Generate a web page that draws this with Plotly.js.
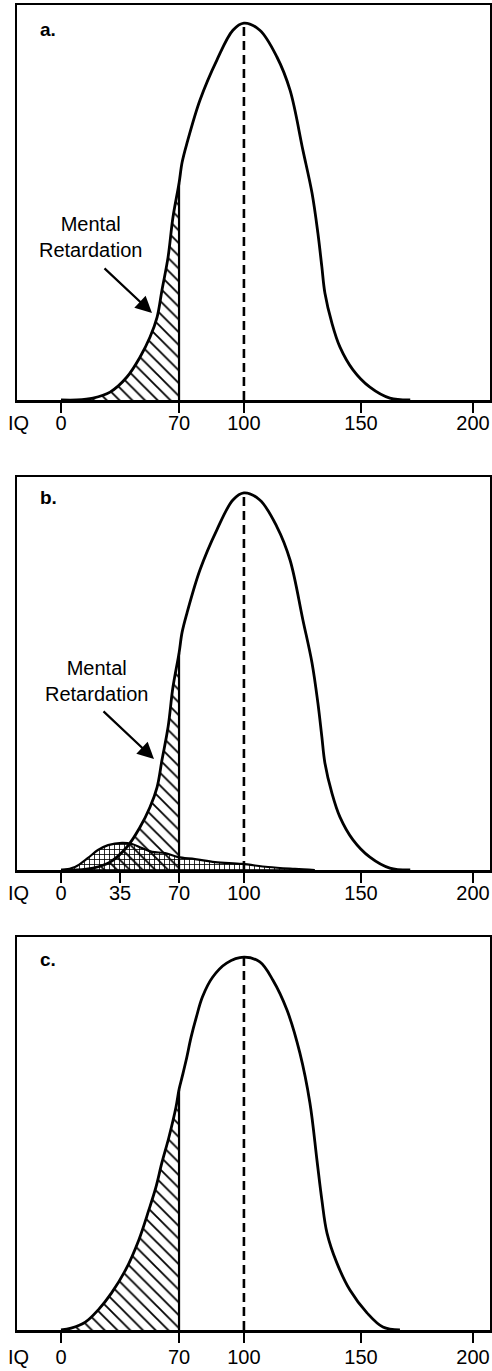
<!DOCTYPE html>
<html><head><meta charset="utf-8">
<script src="https://cdn.plot.ly/plotly-3.0.1.min.js"></script>
<style>html,body{margin:0;padding:0;background:#fff}#chart{width:492px;height:1371px}</style>
</head><body><div id="chart"></div>
<script>
// ---- tick labels / text ----
const tickIQ = [0, 70, 100, 150, 200];
const tickIQb = [0, 35, 70, 100, 150, 200];
const panelLabels = ['a.', 'b.', 'c.'];
const noteText = 'Mental<br>Retardation';
const axisLabel = 'IQ';

// ---- general population curve (panels a and b) ----
const popIQ = [0, 9.5, 19.0, 29.1, 39.1, 46.9, 52.8, 57.0, 59.9, 63.5, 66.4, 70, 71.4, 73.7, 79.7, 87.5, 94.9, 100, 106.8, 114.1, 119.7, 125.2, 129.1, 131.6, 133.3, 134.6, 137.6, 141.0, 146.6, 154.0, 162.9, 172];
const popH  = [0, 0, 0.5, 2.1, 6.1, 11.4, 16.7, 22.0, 29.2, 37.9, 48.5, 57.5, 63.0, 68.2, 79.6, 90.2, 98.1, 100, 98.1, 91.0, 82.2, 66.3, 54.9, 44.3, 35.3, 28.4, 20.4, 14.1, 8.0, 3.4, 0.5, 0];

// ---- second (small) distribution, panel b ----
const orgIQ = [0.6, 8.3, 16.0, 21.9, 27.9, 36.2, 42.1, 48.0, 54.0, 61.7, 69.4, 77.4, 86.6, 99.1, 110.3, 121.8, 130.3];
const orgH  = [0, 0.8, 3.2, 5.3, 6.6, 7.2, 6.9, 5.8, 4.8, 4.5, 3.4, 2.9, 2.1, 1.6, 0.8, 0.3, 0];

// ---- skewed curve, panel c ----
const cIQ = [0, 6.0, 14.4, 22.1, 29.9, 38.3, 46.1, 52.1, 56.3, 59.8, 64.0, 68.2, 70, 71.4, 73.3, 75.6, 78.0, 80.8, 85.5, 92.0, 100, 106.8, 112.4, 118.4, 123.9, 128.2, 131.2, 133.3, 135.5, 139.7, 145.3, 152.7, 159.8, 167.4];
const cH  = [0, 0.5, 2.1, 5.4, 9.9, 16.1, 24.1, 32.2, 38.3, 44.8, 51.7, 59.8, 64.5, 67.8, 72.4, 78.6, 83.9, 89.3, 94.6, 98.4, 100, 98.7, 93.8, 85.8, 74.3, 60.9, 45.6, 34.9, 26.0, 18.0, 10.7, 4.6, 0.8, 0];

const cutoffIQ = 70;
const meanIQ = 100;

// The hand-drawn IQ axis of the original is not evenly spaced:
// piecewise-linear scale through the printed tick marks.
const scaleIQ  = [0, 70, 100, 150, 200];
const scalePos = [0, 57.3, 88.8, 145.6, 200];
function warp(v) {
  for (let i = 0; i < scaleIQ.length - 1; i++) {
    if (v <= scaleIQ[i + 1] || i === scaleIQ.length - 2) {
      const t = (v - scaleIQ[i]) / (scaleIQ[i + 1] - scaleIQ[i]);
      return scalePos[i] + t * (scalePos[i + 1] - scalePos[i]);
    }
  }
}
const W = a => a.map(warp);

const BLACK = '#000';
const FONT = 'Liberation Sans, Arial, Helvetica, sans-serif';
const curveLine = {color: BLACK, width: 2.8, shape: 'spline', smoothing: 1};
const hatch = {shape: '\\', size: 9, solidity: 0.2, fgcolor: BLACK, bgcolor: 'rgba(0,0,0,0)', fillmode: 'replace'};
const grid = {shape: '+', size: 5, solidity: 0.3, fgcolor: BLACK, bgcolor: 'rgba(0,0,0,0)', fillmode: 'replace'};

function valueAt(xs, ys, x) { return ys[xs.indexOf(x)]; }

function panelTraces(xs, ys, xa, ya) {
  const idx = xs.map((v, i) => i).filter(i => xs[i] <= cutoffIQ);
  const hx = idx.map(i => xs[i]);
  const hy = idx.map(i => ys[i]);
  return [
    {x: W(hx), y: hy, xaxis: xa, yaxis: ya, mode: 'lines', fill: 'tozeroy',
     fillcolor: 'rgba(0,0,0,0)', fillpattern: hatch,
     line: {width: 0, shape: 'spline', smoothing: 1}, hoverinfo: 'skip'},
    {x: W(xs), y: ys, xaxis: xa, yaxis: ya, mode: 'lines', line: curveLine, hoverinfo: 'skip'},
    {x: W([cutoffIQ, cutoffIQ]), y: [0, valueAt(xs, ys, cutoffIQ)], xaxis: xa, yaxis: ya,
     mode: 'lines', line: {color: BLACK, width: 2.2}, hoverinfo: 'skip'},
    {x: W([meanIQ, meanIQ]), y: [0, Math.max(...ys)], xaxis: xa, yaxis: ya,
     mode: 'lines', line: {color: BLACK, width: 2.6, dash: '9px,5px'}, hoverinfo: 'skip'}
  ];
}

const traces = [];
traces.push(...panelTraces(popIQ, popH, 'x', 'y'));
traces.push({x: W(orgIQ), y: orgH, xaxis: 'x2', yaxis: 'y2', mode: 'lines', fill: 'tozeroy',
  fillcolor: 'rgba(0,0,0,0)', fillpattern: grid,
  line: {color: BLACK, width: 2.2, shape: 'spline', smoothing: 1}, hoverinfo: 'skip'});
traces.push(...panelTraces(popIQ, popH, 'x2', 'y2'));
traces.push(...panelTraces(cIQ, cH, 'x3', 'y3'));

const xr = [-21.36, 208.25];
function xaxis(vals, standoff) {
  return {
    range: xr, showgrid: false, zeroline: false,
    showline: true, linecolor: BLACK, linewidth: 2.5, mirror: true,
    ticks: 'outside', ticklen: 10, tickwidth: 2.5, tickcolor: BLACK,
    tickvals: W(vals), ticktext: vals.map(String),
    tickfont: {family: FONT, size: 20, color: BLACK},
    ticklabelstandoff: standoff, fixedrange: true
  };
}
function yaxis(dom, top) {
  return {
    domain: dom, range: [0, top], showgrid: false, zeroline: false,
    showline: true, linecolor: BLACK, linewidth: 2.5, mirror: true,
    showticklabels: false, ticks: '', fixedrange: true
  };
}

const H = 1325, base = 1330, L = 17, PW = 473;
const py = p => (base - p) / H;   // pixel row -> paper y
const px = p => (p - L) / PW;     // pixel column -> paper x

const annotations = [];
[[29, 423], [497, 893], [959, 1357]].forEach((r, i) => {
  annotations.push({xref: 'paper', yref: 'paper', x: px(38), y: py(r[0]), xanchor: 'left', yanchor: 'middle',
    text: '<b>' + panelLabels[i] + '</b>', showarrow: false, font: {family: FONT, size: 19, color: BLACK}});
  annotations.push({xref: 'paper', yref: 'paper', x: px(6), y: py(r[1]), xanchor: 'left', yanchor: 'middle',
    text: axisLabel, showarrow: false, font: {family: FONT, size: 20, color: BLACK}});
});
[[90, 237.5, 152, 313, 103, 267], [96, 681, 154, 759, 102, 710]].forEach(a => {
  annotations.push({xref: 'paper', yref: 'paper', x: px(a[0]), y: py(a[1]), xanchor: 'center', yanchor: 'middle',
    text: noteText, showarrow: false, align: 'center', font: {family: FONT, size: 20, color: BLACK}});
  annotations.push({xref: 'paper', yref: 'paper', x: px(a[2]), y: py(a[3]), text: '', showarrow: true,
    ax: a[4] - a[2], ay: a[5] - a[3], arrowhead: 2, arrowsize: 1.5, arrowwidth: 2.2, arrowcolor: BLACK, standoff: 0});
});

const layout = {
  width: 492, height: 1371,
  margin: {l: L, r: 2, t: 5, b: 41},
  paper_bgcolor: '#fff', plot_bgcolor: '#fff',
  showlegend: false,
  xaxis: Object.assign(xaxis(tickIQ, -7), {anchor: 'y'}),
  yaxis: Object.assign(yaxis([py(400), py(5)], 104.8), {anchor: 'x'}),
  xaxis2: Object.assign(xaxis(tickIQb, -7), {anchor: 'y2'}),
  yaxis2: Object.assign(yaxis([py(870), py(477)], 104.2), {anchor: 'x2'}),
  xaxis3: Object.assign(xaxis(tickIQ, -3), {anchor: 'y3'}),
  yaxis3: Object.assign(yaxis([0, py(937)], 105.4), {anchor: 'x3'}),
  annotations: annotations
};

Plotly.newPlot('chart', traces, layout, {staticPlot: true, displayModeBar: false});
</script></body></html>
